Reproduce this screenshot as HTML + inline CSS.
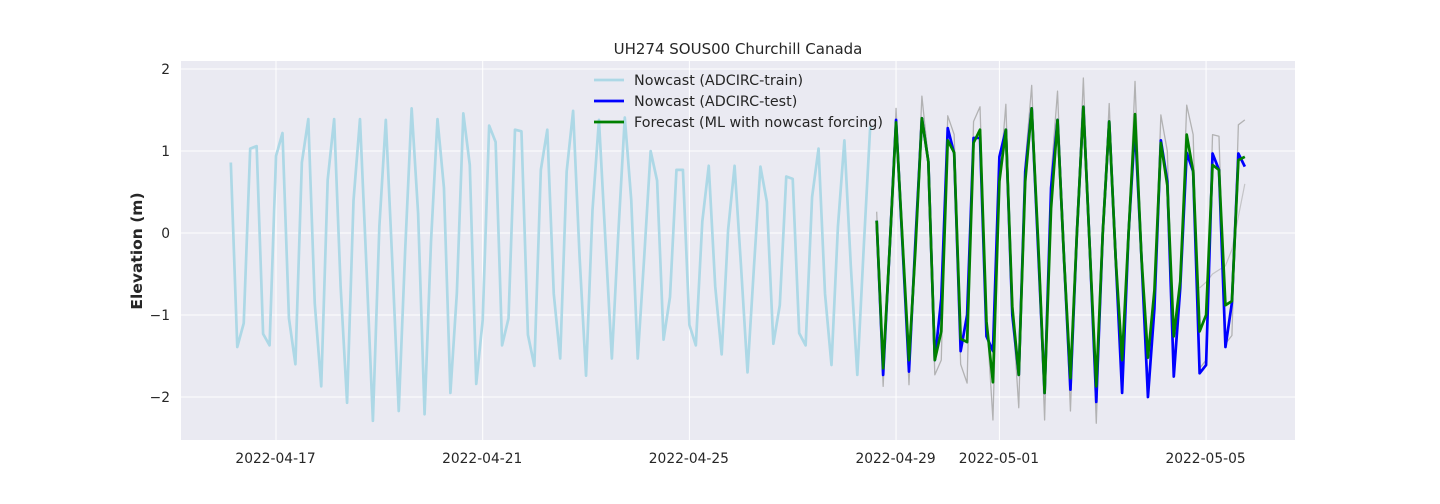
<!DOCTYPE html>
<html><head><meta charset="utf-8"><style>
html,body{margin:0;padding:0;background:#fff;}
svg{display:block;font-family:"DejaVu Sans","Liberation Sans",sans-serif;}
</style></head><body>
<svg id="chart" width="1440" height="504"></svg>
<script>
// data: 3-hourly values, start times in days relative to 2022-04-17 00:00
const trainStart = -0.875;
const testStart = 11.625;
const stepDays = 0.125;
const trainValues = [0.86,-1.39,-1.10,1.03,1.06,-1.23,-1.37,0.94,1.22,-1.04,
-1.60,0.86,1.39,-0.86,-1.87,0.65,1.39,-0.65,-2.07,0.40,
1.39,-0.41,-2.29,0.08,1.38,-0.35,-2.17,-0.2,1.52,0.24,
-2.21,-0.1,1.39,0.55,-1.95,-0.73,1.46,0.83,-1.84,-1.06,
1.31,1.11,-1.37,-1.04,1.26,1.24,-1.24,-1.62,0.77,1.26,
-0.74,-1.53,0.75,1.49,-0.29,-1.74,0.28,1.38,-0.09,-1.53,
0.0,1.41,0.40,-1.53,-0.3,1.00,0.64,-1.30,-0.78,0.77,
0.77,-1.12,-1.37,0.14,0.82,-0.65,-1.48,0.04,0.82,-0.41,
-1.70,-0.41,0.81,0.38,-1.35,-0.88,0.69,0.66,-1.22,-1.37,
0.44,1.03,-0.74,-1.61,0.08,1.13,-0.41,-1.73,-0.17,1.30];
const testValues = [0.15,-1.73,-0.2,1.38,-0.15,-1.69,-0.1,1.40,0.87,-1.55,
-0.8,1.28,0.97,-1.44,-1.0,1.16,1.16,-1.26,-1.44,0.93,
1.26,-1.0,-1.73,0.75,1.52,-0.2,-1.95,0.55,1.38,-0.3,
-1.91,0.0,1.54,-0.2,-2.06,0.0,1.36,-0.3,-1.95,0.0,
1.3,-0.3,-2.0,-0.92,1.13,0.63,-1.75,-0.67,0.98,0.75,
-1.71,-1.61,0.97,0.77,-1.39,-0.85,0.97,0.81];
const forecastValues = [0.15,-1.65,-0.2,1.35,-0.1,-1.55,-0.2,1.40,0.87,-1.55,
-1.2,1.13,0.98,-1.29,-1.33,1.10,1.26,-1.08,-1.82,0.63,
1.26,-0.9,-1.73,0.63,1.52,-0.1,-1.95,0.30,1.38,-0.3,
-1.77,0.0,1.54,-0.2,-1.87,0.0,1.36,-0.3,-1.55,0.0,
1.45,-0.3,-1.52,-0.7,1.10,0.58,-1.26,-0.59,1.2,0.75,
-1.2,-1.0,0.83,0.77,-0.88,-0.83,0.89,0.93];
const observedValues = [0.26,-1.87,-0.2,1.52,-0.1,-1.85,-0.1,1.67,0.9,-1.73,
-1.55,1.43,1.2,-1.6,-1.83,1.36,1.54,-1.0,-2.28,0.6,
1.57,-0.9,-2.13,0.85,1.80,-0.2,-2.28,0.7,1.73,-0.3,
-2.17,0.0,1.89,-0.2,-2.32,0.0,1.58,-0.3,-1.6,0.0,
1.85,-0.3,-1.9,-0.7,1.44,1.0,-1.6,-0.6,1.56,1.2,
-1.65,-1.55,1.2,1.18,-1.35,-1.25,1.32,1.38];
const observed2Start = 50;
const observed2Values = [-0.67,-0.6,-0.5,-0.45,-0.4,-0.2,0.2,0.6];
const yTicks = [-2,-1,0,1,2];
const yTickLabels = ["\u22122","\u22121","0","1","2"];
const xTicks = [0,4,8,12,14,18];
const xTickLabels = ["2022-04-17","2022-04-21","2022-04-25","2022-04-29","2022-05-01","2022-05-05"];

const NS="http://www.w3.org/2000/svg";
const svg=document.getElementById('chart');
const L=181,R=1295,T=61,B=440;
const xMin=-1.839,xMax=19.721,yMin=-2.524,yMax=2.098;
const xs=d=>L+(d-xMin)/(xMax-xMin)*(R-L);
const ys=v=>B-(v-yMin)/(yMax-yMin)*(B-T);
function el(tag,attrs,parent){const e=document.createElementNS(NS,tag);for(const k in attrs)e.setAttribute(k,attrs[k]);(parent||svg).appendChild(e);return e;}

const bg=el('rect',{x:L,y:T,width:R-L,height:B-T,fill:'#eaeaf2'});



yTicks.forEach((v,i)=>{
  const g=el('line',{x1:L,x2:R,y1:ys(v),y2:ys(v),stroke:'#fff','stroke-width':1});
  
  
  const t=el('text',{x:L-11,y:ys(v)+5,'text-anchor':'end','font-size':13.8,fill:'#262626'});
  t.textContent=yTickLabels[i];
  
  
});
xTicks.forEach((d,i)=>{
  const g=el('line',{x1:xs(d),x2:xs(d),y1:T,y2:B,stroke:'#fff','stroke-width':1});
  
  
  const t=el('text',{x:xs(d)-0.5,y:463,'text-anchor':'middle','font-size':13.8,fill:'#262626'});
  t.textContent=xTickLabels[i];
  
  
});

function series(vals,start,color,w,op,name){
  const pts=vals.map((v,i)=>xs(start+i*stepDays).toFixed(2)+','+ys(v).toFixed(2)).join(' ');
  const p=el('polyline',{points:pts,fill:'none',stroke:color,'stroke-width':w,'stroke-opacity':op,'stroke-linejoin':'round'});
  
  
}
series(trainValues,trainStart,'#add8e6',2.7,1,'nowcast-train-line');
series(observed2Values,testStart+observed2Start*stepDays,'#aaaaaa',1.2,0.6,'observed-secondary-line');
series(observedValues,testStart,'#a8a8a8',1.3,0.85,'observed-line');
series(testValues,testStart,'#0000ff',2.7,1,'nowcast-test-line');
series(forecastValues,testStart,'#008000',2.7,1,'forecast-line');

const title=el('text',{x:(L+R)/2,y:54,'text-anchor':'middle','font-size':15,fill:'#262626'});
title.textContent='UH274 SOUS00 Churchill Canada';


const yl=el('text',{x:142,y:251,'text-anchor':'middle','font-size':15.5,'font-weight':'bold',fill:'#262626',transform:'rotate(-90 142 251)'});
yl.textContent='Elevation (m)';



const legendItems=[['Nowcast (ADCIRC-train)','#add8e6'],['Nowcast (ADCIRC-test)','#0000ff'],['Forecast (ML with nowcast forcing)','#008000']];
legendItems.forEach((it,i)=>{
  const y=80+i*21;
  const ln=el('line',{x1:594,x2:624,y1:y,y2:y,stroke:it[1],'stroke-width':2.7});
  
  
  const t=el('text',{x:634,y:y+5,'font-size':14.3,fill:'#262626'});
  t.textContent=it[0];
  
  
});
</script>
</body></html>
